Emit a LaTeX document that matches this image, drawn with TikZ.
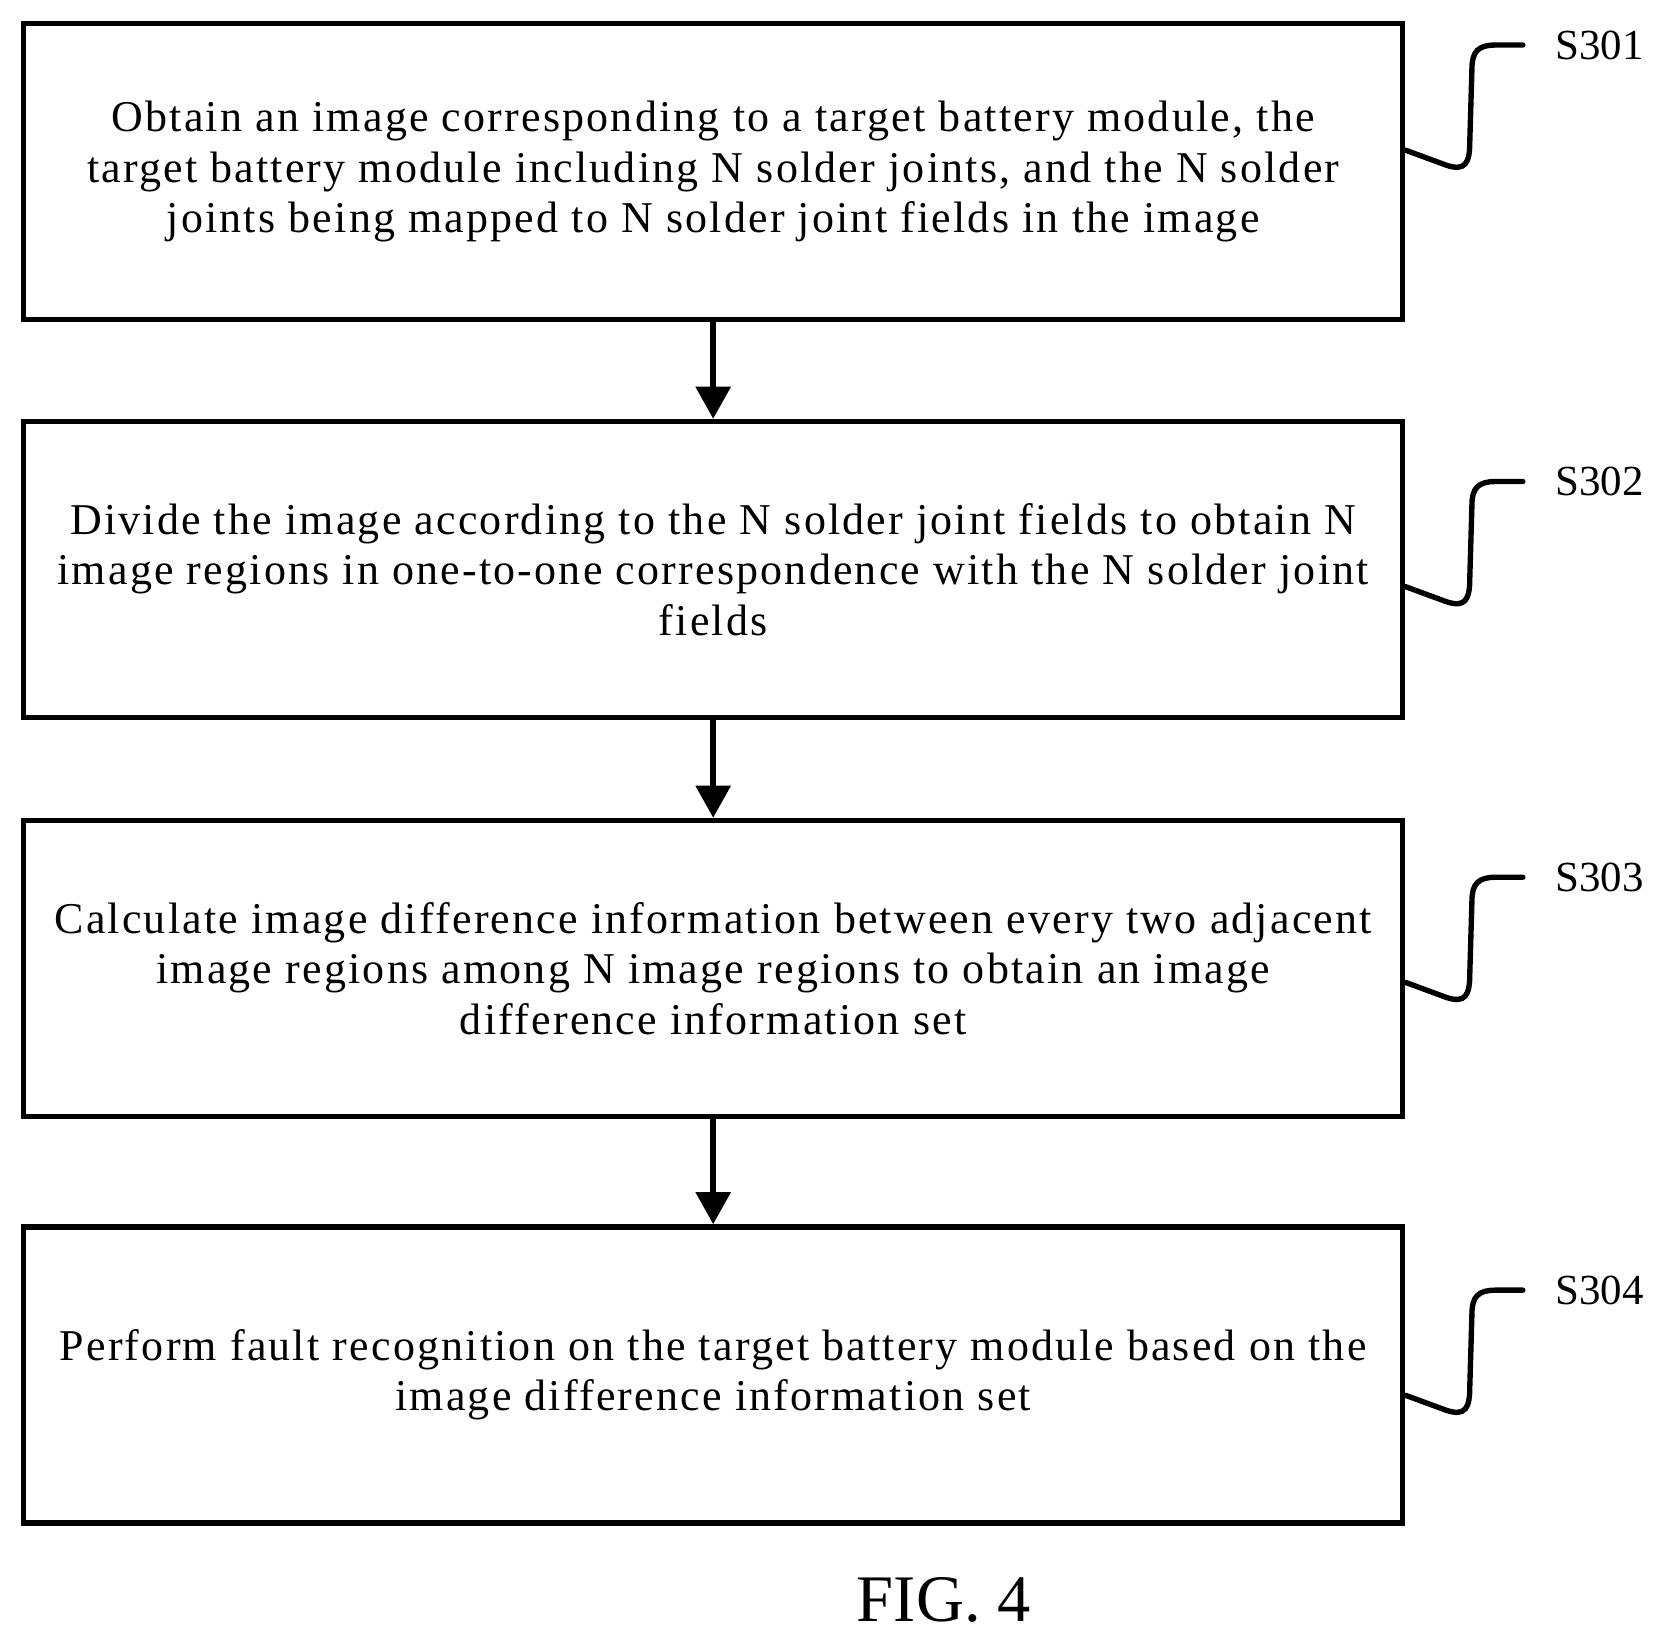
\documentclass[tikz,border=0pt]{standalone}
\usepackage{fontspec}
\setmainfont{Liberation Serif}
\newfontfamily\spaced[LetterSpace=5]{Liberation Serif}
\usetikzlibrary{arrows.meta}
\begin{document}
\begin{tikzpicture}[x=1pt,y=-1pt,
  box/.style={draw,line width=5pt,minimum width=1286pt,minimum height=276pt,align=center,font=\spaced\fontsize{41}{47}\selectfont,inner sep=0pt},
  arr/.style={line width=5pt,-{Triangle[length=30pt,width=32pt]}},
  sq/.style={line width=5pt,line cap=round},
  lab/.style={font=\fontsize{40}{47}\selectfont,anchor=west,inner sep=0pt}]
\useasboundingbox (0,0) rectangle (1560,1528);
\node[box] (b1) at (665,160) {Obtain an image corresponding to a target battery module, the\\target battery module including N solder joints, and the N solder\\joints being mapped to N solder joint fields in the image};
\node[box] (b2) at (665,531) {Divide the image according to the N solder joint fields to obtain N\\image regions in one-to-one correspondence with the N solder joint\\fields};
\node[box] (b3) at (665,903) {Calculate image difference information between every two adjacent\\image regions among N image regions to obtain an image\\difference information set};
\node[box] (b4) at (665,1282) {Perform fault recognition on the target battery module based on the\\image difference information set};
\draw[arr] (b1.south) -- (b2.north);
\draw[arr] (b2.south) -- (b3.north);
\draw[arr] (b3.south) -- (b4.north);
\foreach \n/\y/\t in {1/42/S301,2/449/S302,3/818/S303,4/1203/S304}{
  \coordinate (c\n) at (1420,\y);
  \draw[sq] (b\n.east |- 0,\y+98) -- ++(38,14) .. controls ++(18,6) and ++(0,20) .. ++(22,-22) -- ++(2,-68) .. controls ++(0,-16) and ++(-16,0) .. ++(22,-22) -- (c\n);
  \node[lab] (l\n) at (1450,\y) {\t};
}
\node[font=\fontsize{62}{70}\selectfont] (fig) at (880,1492) {FIG. 4};
\end{tikzpicture}
\end{document}
